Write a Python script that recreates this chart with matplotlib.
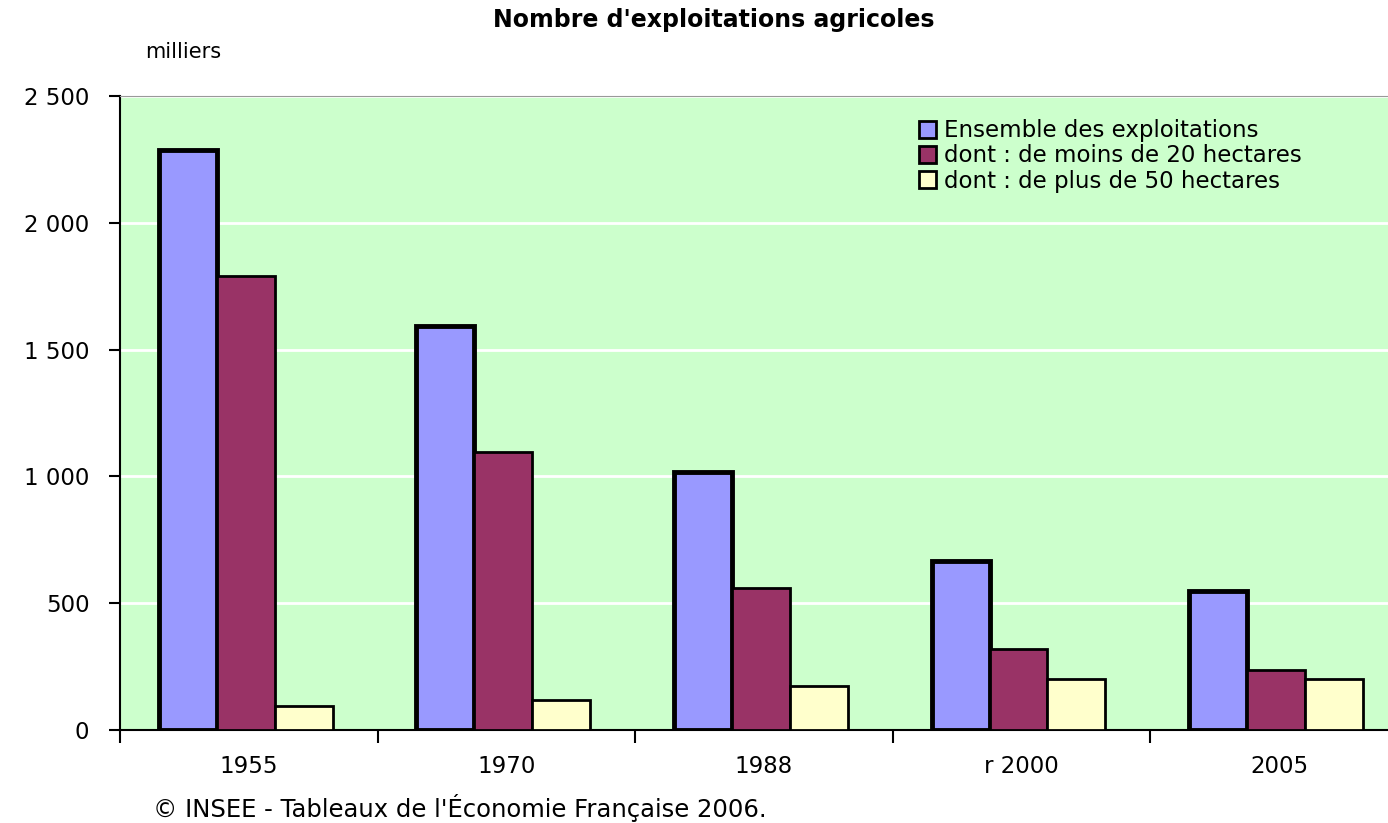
import matplotlib
matplotlib.use('Agg')
import matplotlib.pyplot as plt
import numpy as np

years = ['1955', '1970', '1988', 'r 2000', '2005']
total = [2287, 1593, 1017, 666, 548]
under20 = [1790, 1096, 560, 319, 237]
over50 = [95, 118, 173, 201, 201]
series = [('Ensemble des exploitations', total, '#9999FF', 3.5),
          ('dont : de moins de 20 hectares', under20, '#993366', 2.0),
          ('dont : de plus de 50 hectares', over50, '#FFFFCC', 2.0)]

plt.rcParams['font.family'] = ['DejaVu Sans']
fig = plt.figure(figsize=(13.88, 8.23), dpi=100)
ax = fig.add_axes([120 / 1388, 93 / 823, 1288 / 1388, 634 / 823])
ax.set_facecolor('#CCFFCC')

x = np.arange(len(years)) + 0.5
w = 0.225
for k, (name, vals, col, lw) in enumerate(series):
    ax.bar(x + (k - 1) * w - 0.012, vals, w, color=col, edgecolor='black', linewidth=lw,
           label=name, zorder=3)

ax.set_xlim(0, 5)
ax.set_ylim(0, 2500)
ax.set_yticks(range(0, 2501, 500))
ax.set_yticklabels(['0', '500', '1 000', '1 500', '2 000', '2 500'], fontsize=16.5)
ax.yaxis.grid(True, color='white', lw=2, zorder=0)
ax.set_xticks(range(0, 6))
ax.set_xticklabels([])
ax.set_xticks(x, minor=True)
ax.set_xticklabels(years, minor=True, fontsize=16.5)
ax.tick_params(axis='x', which='major', length=9, width=1.5, direction='out')
ax.tick_params(axis='x', which='minor', length=0, pad=18)
ax.tick_params(axis='y', length=8, width=1.5, pad=14)
ax.spines['left'].set_linewidth(1.5)
ax.spines['bottom'].set_linewidth(1.5)
ax.spines['top'].set_color('#999999')
ax.spines['right'].set_visible(False)

leg = ax.legend(loc='upper left', bbox_to_anchor=(790 / 1288, 0.978), frameon=False,
                fontsize=16.5, handlelength=0.75, handleheight=0.75, handletextpad=0.35,
                labelspacing=0.1, borderaxespad=0)
for h in leg.legend_handles:
    h.set_linewidth(2)

fig.text(714 / 1388, 1 - 20 / 823, "Nombre d'exploitations agricoles", ha='center',
         va='center', fontsize=17, fontweight='bold')
fig.text(145 / 1388, 1 - 52 / 823, 'milliers', ha='left', va='center', fontsize=15)
fig.text(153 / 1388, 1 - 808 / 823, "© INSEE - Tableaux de l'Économie Française 2006.",
         ha='left', va='center', fontsize=17.5)

fig.savefig('out.png', dpi=100, facecolor='white')
